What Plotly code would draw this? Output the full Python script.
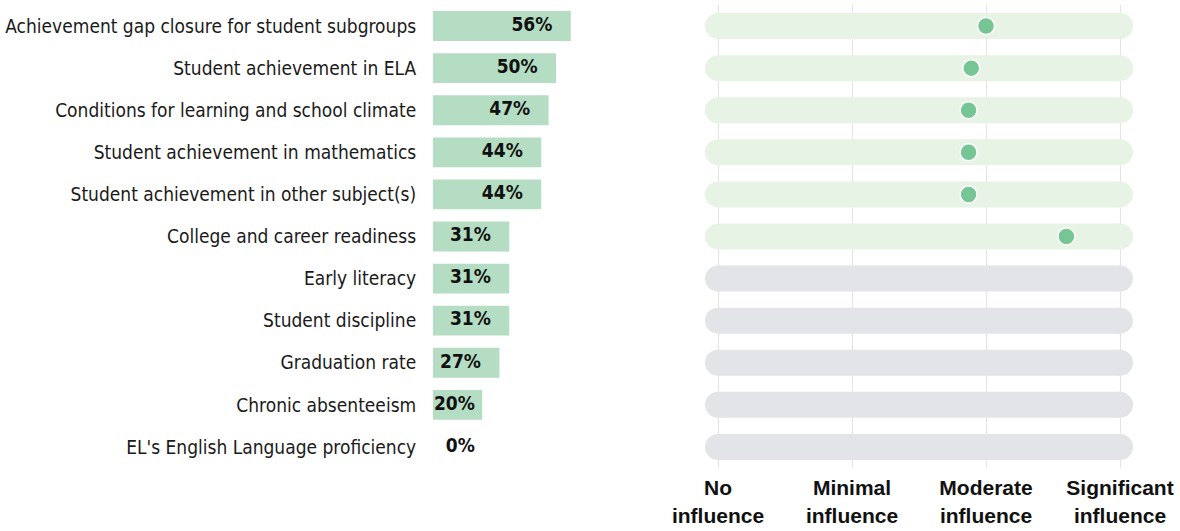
import plotly.graph_objects as go

categories = [
    "Achievement gap closure for student subgroups",
    "Student achievement in ELA",
    "Conditions for learning and school climate",
    "Student achievement in mathematics",
    "Student achievement in other subject(s)",
    "College and career readiness",
    "Early literacy",
    "Student discipline",
    "Graduation rate",
    "Chronic absenteeism",
    "EL's English Language proficiency",
]
percent = [56, 50, 47, 44, 44, 31, 31, 31, 27, 20, 0]
influence = [3.0, 2.89, 2.87, 2.87, 2.87, 3.6, None, None, None, None, None]
influence_levels = [1, 2, 3, 4]
influence_labels = ["No<br>influence", "Minimal<br>influence", "Moderate<br>influence", "Significant<br>influence"]

BAR = "#b4ddc3"
DOT = "#76c594"
TRACK_G = "#e7f3e5"
TRACK_X = "#e3e4e8"
NARROW = "DejaVu Sans Condensed, sans-serif"

fig = go.Figure()

fig.add_trace(go.Bar(
    y=categories, x=percent, orientation="h", marker=dict(color=BAR, line=dict(width=0)),
    width=0.71, xaxis="x", yaxis="y", hoverinfo="skip", showlegend=False,
))
fig.add_trace(go.Scatter(
    y=categories, x=[max(v - 7.5, 17) for v in percent], mode="text",
    text=[f"{v}%" for v in percent], textposition="middle left", cliponaxis=False,
    textfont=dict(family=NARROW, size=19, color="#111111", weight="bold"),
    xaxis="x", yaxis="y", showlegend=False, hoverinfo="skip",
))

for cat, val in zip(categories, influence):
    col = TRACK_G if val is not None else TRACK_X
    fig.add_trace(go.Scatter(
        y=[cat, cat], x=[influence_levels[0], influence_levels[-1]], mode="lines+markers",
        line=dict(color=col, width=26), marker=dict(color=col, size=26, line=dict(width=0)),
        xaxis="x2", yaxis="y2", showlegend=False, hoverinfo="skip", cliponaxis=False,
    ))

pts = [(c, v) for c, v in zip(categories, influence) if v is not None]
fig.add_trace(go.Scatter(
    y=[c for c, _ in pts], x=[v for _, v in pts], mode="markers",
    marker=dict(color=DOT, size=17, line=dict(color="white", width=1.5)),
    xaxis="x2", yaxis="y2", showlegend=False, hoverinfo="skip", cliponaxis=False,
))

n = len(categories)
yrange = [n - 0.5, -0.5]
ydom = [1 - 468 / 531, 1 - 5 / 531]
fig.update_layout(
    width=1180, height=531, margin=dict(l=0, r=0, t=0, b=0, autoexpand=False),
    paper_bgcolor="white", plot_bgcolor="white",
    xaxis=dict(domain=[433 / 1180, (433 + 60 * 2.46) / 1180], range=[0, 60], automargin=False,
               showgrid=False, zeroline=False, showticklabels=False, ticks=""),
    yaxis=dict(domain=ydom, range=yrange, autorange=False, categoryorder="array", categoryarray=categories,
               automargin=False, showgrid=False, zeroline=False, ticks="outside", ticklen=12,
               tickcolor="rgba(0,0,0,0)",
               tickfont=dict(family=NARROW, size=19, color="#1a1a1a")),
    xaxis2=dict(domain=[(718 - 0.2 * 134) / 1180, (1120 + 0.3 * 134) / 1180], range=[0.8, 4.3],
                tickvals=influence_levels, ticktext=influence_labels, automargin=False,
                showgrid=True, gridcolor="#e4e4e4", gridwidth=1, zeroline=False,
                ticks="outside", ticklen=1, tickcolor="rgba(0,0,0,0)", anchor="y2",
                tickfont=dict(family="Liberation Sans, Arial, sans-serif", size=21, color="#111111", weight="bold")),
    yaxis2=dict(domain=ydom, range=yrange, autorange=False, categoryorder="array", categoryarray=categories,
                anchor="x2", automargin=False, showticklabels=False, showgrid=False, zeroline=False),
)

fig.write_html("out.html", config={"displayModeBar": False},
               post_script="document.body.style.margin='0';")
